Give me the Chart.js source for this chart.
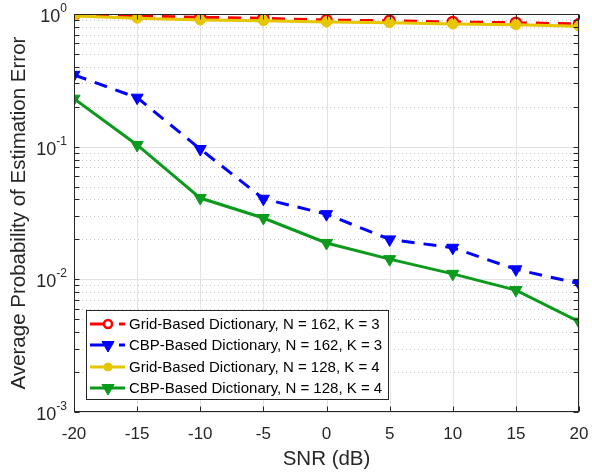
<!DOCTYPE html>
<html>
<head>
<meta charset="utf-8">
<script src="https://cdn.jsdelivr.net/npm/chart.js@4.4.0/dist/chart.umd.min.js"></script>
<style>
  body { margin: 0; background: #fff; }
  canvas { display: block; }
</style>
</head>
<body>
<canvas id="myChart" width="592" height="472"></canvas>
<script>
// data
var snr = [-20, -15, -10, -5, 0, 5, 10, 15, 20];
var gridN162 = [0.98, 0.966, 0.944, 0.928, 0.90, 0.89, 0.87, 0.86, 0.84];
var cbpN162 = [0.348, 0.234, 0.096, 0.0405, 0.031, 0.020, 0.0173, 0.0119, 0.0093];
var gridN128 = [0.966, 0.93, 0.90, 0.89, 0.87, 0.86, 0.84, 0.83, 0.81];
var cbpN128 = [0.23, 0.103, 0.041, 0.029, 0.0188, 0.0142, 0.011, 0.0083, 0.0048];
var xTicks = [-20, -15, -10, -5, 0, 5, 10, 15, 20];
var yDecades = [-3, -2, -1, 0];
var labels = [
  'Grid-Based Dictionary, N = 162, K = 3',
  'CBP-Based Dictionary, N = 162, K = 3',
  'Grid-Based Dictionary, N = 128, K = 4',
  'CBP-Based Dictionary, N = 128, K = 4'
];

var RED = '#ff0000', BLUE = '#0000ff', YELLOW = '#e6c600', GREEN = '#0b9a1c';
var AXIS = '#262626';
var FONT = '"Liberation Sans", Arial, sans-serif';

function pts(ys) {
  return snr.map(function (x, i) { return { x: x, y: ys[i] }; });
}

// grid, box, tick labels, titles and legend, MATLAB style
var matlabAxes = {
  id: 'matlabAxes',
  beforeDatasetsDraw: function (chart) {
    var c = chart.ctx, a = chart.chartArea;
    var xs = chart.scales.x, ys = chart.scales.y;
    c.save();
    c.lineWidth = 1;
    // minor dotted
    c.strokeStyle = '#c4c4c4';
    c.setLineDash([1, 3]);
    yDecades.forEach(function (k) {
      if (k >= 0) return;
      for (var m = 2; m <= 9; m++) {
        var y = Math.round(ys.getPixelForValue(m * Math.pow(10, k))) + 0.5;
        c.beginPath(); c.moveTo(a.left, y); c.lineTo(a.right, y); c.stroke();
      }
    });
    c.setLineDash([]);
    // major solid
    c.strokeStyle = '#e3e3e3';
    yDecades.forEach(function (k) {
      var y = Math.round(ys.getPixelForValue(Math.pow(10, k))) + 0.5;
      c.beginPath(); c.moveTo(a.left, y); c.lineTo(a.right, y); c.stroke();
    });
    xTicks.forEach(function (v) {
      var x = Math.round(xs.getPixelForValue(v)) + 0.5;
      c.beginPath(); c.moveTo(x, a.top); c.lineTo(x, a.bottom); c.stroke();
    });
    c.restore();
  },
  afterDraw: function (chart) {
    var c = chart.ctx, a = chart.chartArea;
    var xs = chart.scales.x, ys = chart.scales.y;
    c.save();
    // box
    c.strokeStyle = AXIS;
    c.lineWidth = 1;
    var L = Math.round(a.left) + 0.5, R = Math.round(a.right) - 0.5;
    var T = Math.round(a.top) + 0.5, B = Math.round(a.bottom) - 0.5;
    c.strokeRect(L, T, R - L, B - T);
    // tick marks inside
    c.beginPath();
    xTicks.forEach(function (v) {
      var x = Math.round(xs.getPixelForValue(v)) + 0.5;
      c.moveTo(x, B); c.lineTo(x, B - 5);
      c.moveTo(x, T); c.lineTo(x, T + 5);
    });
    yDecades.forEach(function (k) {
      for (var m = 1; m <= 9; m++) {
        if (k >= 0 && m > 1) break;
        var y = Math.round(ys.getPixelForValue(m * Math.pow(10, k))) + 0.5;
        c.moveTo(L, y); c.lineTo(L + 5, y);
        c.moveTo(R, y); c.lineTo(R - 5, y);
      }
    });
    c.stroke();

    c.fillStyle = AXIS;
    // x tick labels
    c.font = '17px ' + FONT;
    c.textAlign = 'center';
    c.textBaseline = 'alphabetic';
    xTicks.forEach(function (v) {
      c.fillText(String(v), xs.getPixelForValue(v), a.bottom + 27);
    });

    // y tick labels 10^k
    yDecades.forEach(function (k) {
      var y = ys.getPixelForValue(Math.pow(10, k));
      var ex = String(k);
      c.font = '12px ' + FONT;
      var ew = c.measureText(ex).width;
      c.font = '18px ' + FONT;
      var bw = c.measureText('10').width;
      var right = a.left - 7;
      c.textAlign = 'left';
      c.fillText('10', right - ew - bw, y + 8);
      c.font = '12px ' + FONT;
      c.fillText(ex, right - ew, y - 2);
    });

    // titles
    c.font = '20.5px ' + FONT;
    c.textAlign = 'center';
    c.fillText('SNR (dB)', (a.left + a.right) / 2, 465);
    c.save();
    c.translate(25, (a.top + a.bottom) / 2);
    c.rotate(-Math.PI / 2);
    c.fillText('Average Probability of Estimation Error', 0, 0);
    c.restore();

    // legend
    var bx = 86, by = 310, bw2 = 302, bh = 89;
    c.fillStyle = '#fff';
    c.fillRect(bx, by, bw2, bh);
    c.strokeStyle = AXIS;
    c.strokeRect(bx + 0.5, by + 0.5, bw2, bh);
    var rows = [324, 345, 367, 388];
    chart.data.datasets.forEach(function (ds, i) {
      var y = rows[i];
      c.strokeStyle = ds.borderColor;
      c.lineWidth = 3;
      c.setLineDash([]);
      c.beginPath();
      if (ds.borderDash && ds.borderDash.length) {
        c.moveTo(90, y); c.lineTo(104, y);
        c.moveTo(119, y); c.lineTo(125, y);
      } else {
        c.moveTo(90, y); c.lineTo(125, y);
      }
      c.stroke();
      c.lineWidth = ds.pointBorderWidth;
      c.fillStyle = ds.pointBackgroundColor;
      c.beginPath();
      if (ds.pointStyle === 'circle') {
        c.arc(108, y, ds.pointRadius - 1, 0, Math.PI * 2);
      } else {
        var r = ds.pointRadius;
        c.moveTo(108 - r * 0.87, y - r * 0.5);
        c.lineTo(108 + r * 0.87, y - r * 0.5);
        c.lineTo(108, y + r);
        c.closePath();
      }
      c.fill();
      c.stroke();
      c.fillStyle = '#000';
      c.font = '15px ' + FONT;
      c.textAlign = 'left';
      c.textBaseline = 'middle';
      c.fillText(labels[i], 129, y + 1);
    });
    c.restore();
  }
};

var ctx = document.getElementById('myChart').getContext('2d');
var myChart = new Chart(ctx, {
  type: 'line',
  data: {
    datasets: [{
      label: labels[0],
      data: pts(gridN162),
      borderColor: RED,
      borderWidth: 3,
      borderDash: [13, 9],
      pointStyle: 'circle',
      pointRadius: 5,
      pointBorderWidth: 2.5,
      pointBackgroundColor: '#fff',
      pointBorderColor: RED,
      order: 4
    },
    {
      label: labels[1],
      data: pts(cbpN162),
      borderColor: BLUE,
      borderWidth: 3,
      borderDash: [13, 9],
      pointStyle: 'triangle',
      rotation: 180,
      pointRadius: 7,
      pointBorderWidth: 1,
      pointBackgroundColor: BLUE,
      pointBorderColor: BLUE,
      order: 3
    },
    {
      label: labels[2],
      data: pts(gridN128),
      borderColor: YELLOW,
      borderWidth: 3,
      pointStyle: 'circle',
      pointRadius: 5,
      pointBorderWidth: 1,
      pointBackgroundColor: YELLOW,
      pointBorderColor: YELLOW,
      order: 2
    },
    {
      label: labels[3],
      data: pts(cbpN128),
      borderColor: GREEN,
      borderWidth: 3,
      pointStyle: 'triangle',
      rotation: 180,
      pointRadius: 7,
      pointBorderWidth: 1,
      pointBackgroundColor: GREEN,
      pointBorderColor: GREEN,
      order: 1
    }]
  },
  options: {
    responsive: false,
    animation: false,
    devicePixelRatio: 1,
    layout: { padding: { top: 14, right: 13, left: 0, bottom: 0 } },
    plugins: {
      legend: { display: false },
      tooltip: { enabled: false }
    },
    scales: {
      x: {
        type: 'linear',
        min: -20,
        max: 20,
        ticks: { display: false },
        grid: { display: false, drawTicks: false },
        border: { display: false },
        afterFit: function (scale) {
          scale.height = 60;
          scale.paddingLeft = 0;
          scale.paddingRight = 0;
        }
      },
      y: {
        type: 'logarithmic',
        min: 0.001,
        max: 1,
        ticks: { display: false },
        grid: { display: false, drawTicks: false },
        border: { display: false },
        afterFit: function (scale) {
          scale.width = 74;
          scale.paddingTop = 0;
          scale.paddingBottom = 0;
        }
      }
    }
  },
  plugins: [matlabAxes]
});
</script>
</body>
</html>
